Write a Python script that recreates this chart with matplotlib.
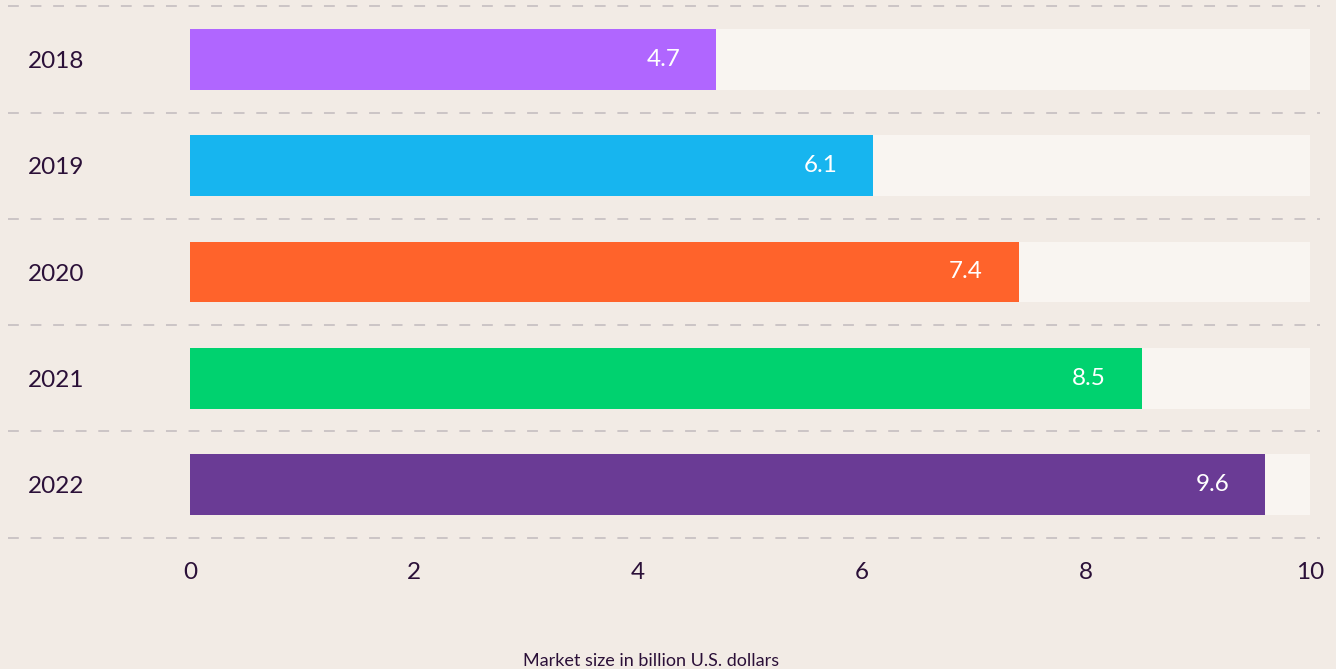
import matplotlib.pyplot as plt
from matplotlib.transforms import blended_transform_factory

years = ['2018', '2019', '2020', '2021', '2022']
market_size = [4.7, 6.1, 7.4, 8.5, 9.6]
bar_colors = ['#b066ff', '#17b5ef', '#ff632b', '#00d26f', '#6a3b95']
x_ticks = [0, 2, 4, 6, 8, 10]
x_label = 'Market size in billion U.S. dollars'

bg = '#f2ebe5'
track = '#f9f5f1'
ink = '#2b1038'
dash = '#c9c1c3'

plt.rcParams['font.family'] = ['Lato', 'DejaVu Sans']

W, H = 1336, 669
fig = plt.figure(figsize=(W / 100, H / 100), dpi=100, facecolor=bg)
# axes runs across the whole width, stops above the tick labels
ax = fig.add_axes([0, 1 - 545 / H, 1, 545 / H])
ax.set_facecolor(bg)

px = 112.0  # pixels per billion
x0 = 190.0  # pixel where 0 sits
ax.set_xlim(-x0 / px, (W - x0) / px)
step = 106.25
ax.set_ylim((545 - 59.5) / step, -59.5 / step)

pos = list(range(len(years)))
ax.barh(pos, [10] * len(years), height=0.574, color=track, zorder=1)
ax.barh(pos, market_size, height=0.574, color=bar_colors, zorder=2)

for i, v in enumerate(market_size):
    ax.annotate(f'{v}', (v, i), xytext=(-36, 0), textcoords='offset pixels',
                ha='right', va='center', color='white', fontsize=17.5, zorder=3)

# dashed separators between rows
for k in range(len(years) + 1):
    ax.plot([8 / px - x0 / px, (1320 - x0) / px], [k - 0.5, k - 0.5],
            color=dash, lw=1.3, dashes=(6, 6.5), zorder=0, clip_on=False)

tr = blended_transform_factory(fig.transFigure, ax.transData)
for i, y in enumerate(years):
    ax.text(28 / W, i + 0.02, y, transform=tr, ha='left', va='center',
            color=ink, fontsize=17.5)

ax.set_xticks(x_ticks)
ax.set_xticklabels([str(t) for t in x_ticks], color=ink, fontsize=17.5)
ax.tick_params(axis='x', length=0, pad=12)
ax.set_yticks([])
for s in ax.spines.values():
    s.set_visible(False)

fig.text(651 / W, 1 - 661 / H, x_label, ha='center', va='center',
         color=ink, fontsize=13)

fig.savefig('out.png', dpi=100, facecolor=bg)
